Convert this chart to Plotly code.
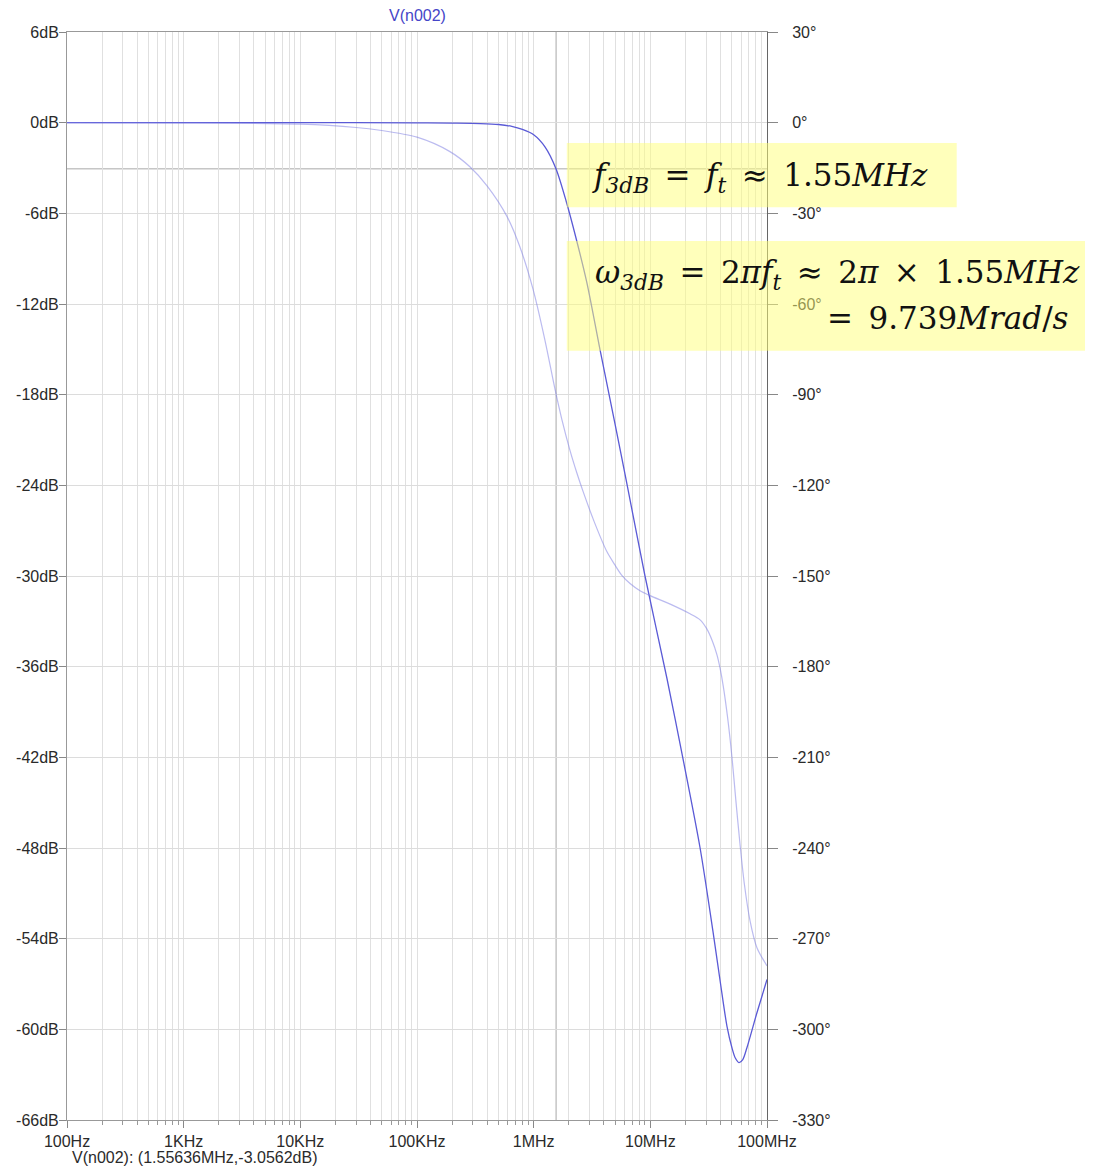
import plotly.graph_objects as go

# ---- data ----
mag_freq = [100, 1e3, 1e4, 1e5, 2e5, 3.5e5, 5e5, 6.5e5, 8e5, 1.0e6, 1.25e6, 1.556e6,
            1.9e6, 2.3e6, 2.86e6, 3.7e6, 5.0e6, 6.3e6, 9.0e6, 13.9e6, 19.4e6,
            26.7e6, 34.4e6, 40e6, 45.4e6, 50e6, 53.5e6, 57.5e6, 62e6, 67.4e6,
            82e6, 100e6]
mag_db = [0, 0, 0, -0.01, -0.03, -0.06, -0.12, -0.25, -0.45, -0.8, -1.6, -3.06,
          -5.2, -7.6, -10.6, -15.0, -20.0, -23.9, -30.0, -36.8, -42.4,
          -48.0, -53.5, -57.0, -59.8, -61.2, -61.9, -62.2, -62.0, -61.2,
          -58.9, -56.7]

ph_freq = [100, 1e3, 1e4, 3e4, 4.8e4, 1e5, 1.9e5, 2.84e5, 4e5, 5.9e5, 7.6e5, 9.86e5,
           1.25e6, 1.52e6, 1.75e6, 2.05e6, 2.35e6, 2.65e6, 3.3e6, 4.25e6, 5.0e6, 5.7e6,
           6.7e6, 8.1e6, 9.93e6, 14.8e6, 21.9e6, 26.7e6, 30.5e6, 34e6, 37.2e6,
           39.6e6, 42.2e6, 46e6, 50.1e6, 54e6, 58.8e6, 64e6, 71.5e6, 82e6, 100e6]
ph_deg = [0, -0.05, -0.5, -1.6, -2.5, -4.8, -9.5, -14.6, -21, -31, -41, -55,
          -72, -88, -98.4, -108.5, -116, -122, -132, -142, -146.5, -149.8,
          -152.5, -154.8, -156.5, -159.3, -162.5, -164.5, -167.5, -171.5, -176,
          -180.5, -186.5, -197, -210, -224, -239, -252, -264, -273, -279]

x_tickvals = [1e2, 1e3, 1e4, 1e5, 1e6, 1e7, 1e8]
x_ticktext = ["100Hz", "1KHz", "10KHz", "100KHz", "1MHz", "10MHz", "100MHz"]
x_minor = [k * 10 ** n for n in range(2, 8) for k in range(2, 10)]
db_ticks = [6, 0, -6, -12, -18, -24, -30, -36, -42, -48, -54, -60, -66]
deg_ticks = [30, 0, -30, -60, -90, -120, -150, -180, -210, -240, -270, -300, -330]

cursor_freq = 1.55636e6
cursor_db = -3.0562

TXT = "#2a2a2a"
GRID = "#e0e0e0"
FONT = "Liberation Sans, Arial, sans-serif"

fig = go.Figure()
fig.add_trace(go.Scatter(x=mag_freq, y=mag_db, mode="lines",
                         line=dict(color="#5a5ad6", width=1.3, shape="spline", smoothing=0.8),
                         showlegend=False, hoverinfo="skip"))
fig.add_trace(go.Scatter(x=ph_freq, y=ph_deg, mode="lines", yaxis="y2",
                         line=dict(color="rgba(120,120,225,0.5)", width=1.2, shape="spline", smoothing=0.8),
                         showlegend=False, hoverinfo="skip"))

# cursor lines
fig.add_shape(type="line", xref="x", yref="paper", x0=cursor_freq, x1=cursor_freq, y0=0, y1=1,
              line=dict(color="#a8a8a8", width=1), layer="below")
fig.add_shape(type="line", xref="paper", yref="y", x0=0, x1=1, y0=cursor_db, y1=cursor_db,
              line=dict(color="#a8a8a8", width=1), layer="below")

# yellow highlight boxes
YEL = "rgba(255,255,120,0.5)"
fig.add_shape(type="rect", xref="paper", yref="paper", x0=0.714, x1=1.271, y0=0.839, y1=0.898,
              fillcolor=YEL, line=dict(width=0), layer="above")
fig.add_shape(type="rect", xref="paper", yref="paper", x0=0.714, x1=1.466, y0=0.707, y1=0.808,
              fillcolor=YEL, line=dict(width=0), layer="above")

SP = "\u2002"
MFONT = dict(family="DejaVu Serif, Liberation Serif, serif", size=31, color="#111111")
fig.add_annotation(xref="paper", yref="paper", x=0.747, y=0.8667, xanchor="left", yanchor="middle",
                   showarrow=False, font=MFONT,
                   text=f"<i>f</i><sub><i>3dB</i></sub>{SP}={SP}<i>f</i><sub><i>t</i></sub>{SP}≈{SP}1.55<i>MHz</i>")
fig.add_annotation(xref="paper", yref="paper", x=0.7514, y=0.7767, xanchor="left", yanchor="middle",
                   showarrow=False, font=MFONT,
                   text=f"<i>ω</i><sub><i>3dB</i></sub>{SP}={SP}2<i>πf</i><sub><i>t</i></sub>{SP}≈{SP}2<i>π</i>{SP}×{SP}1.55<i>MHz</i>")
fig.add_annotation(xref="paper", yref="paper", x=1.434, y=0.7371, xanchor="right", yanchor="middle",
                   showarrow=False, font=MFONT,
                   text=f"={SP}9.739<i>Mrad</i>/<i>s</i>")

# title and cursor readout
fig.add_annotation(xref="paper", yref="paper", x=0.5, y=1.0156, xanchor="center", yanchor="middle",
                   showarrow=False, text="V(n002)", font=dict(family=FONT, size=16, color="#4545c8"))
fig.add_annotation(xref="paper", yref="paper", x=0.004, y=-0.0349, xanchor="left", yanchor="middle",
                   showarrow=False, text="V(n002): (1.55636MHz,-3.0562dB)",
                   font=dict(family=FONT, size=16, color=TXT))

# the page body has an 8px margin, so the figure is sized to start there
fig.update_layout(
    width=1085, height=1162,
    margin=dict(l=59, r=326, t=24, b=50, autoexpand=False),
    paper_bgcolor="white", plot_bgcolor="white",
    font=dict(family=FONT, size=16, color=TXT),
    xaxis=dict(type="log", range=[2, 8], tickvals=x_tickvals, ticktext=x_ticktext,
               automargin=False,
               showgrid=True, gridcolor=GRID, gridwidth=1,
               ticks="outside", ticklen=7, tickcolor="#888888",
               showline=True, linecolor="#999999", mirror=True, zeroline=False,
               minor=dict(tickmode="array", tickvals=x_minor, showgrid=True, gridcolor=GRID,
                          ticks="outside", ticklen=4, tickcolor="#999999")),
    yaxis=dict(range=[-66, 6], tickvals=db_ticks, ticktext=[f"{v}dB" for v in db_ticks],
               automargin=False,
               showgrid=True, gridcolor="#dcdcdc", zeroline=False,
               ticks="outside", ticklen=7, tickcolor="#888888",
               showline=True, linecolor="#999999", ticklabelstandoff=-3),
    yaxis2=dict(range=[-330, 30], tickvals=deg_ticks, ticktext=[f"{v}°" for v in deg_ticks],
                automargin=False,
                overlaying="y", side="right", showgrid=False, zeroline=False,
                ticks="outside", ticklen=10, tickcolor="#888888",
                showline=True, linecolor="#666666", ticklabelstandoff=11),
)

fig.write_html("out.html")
